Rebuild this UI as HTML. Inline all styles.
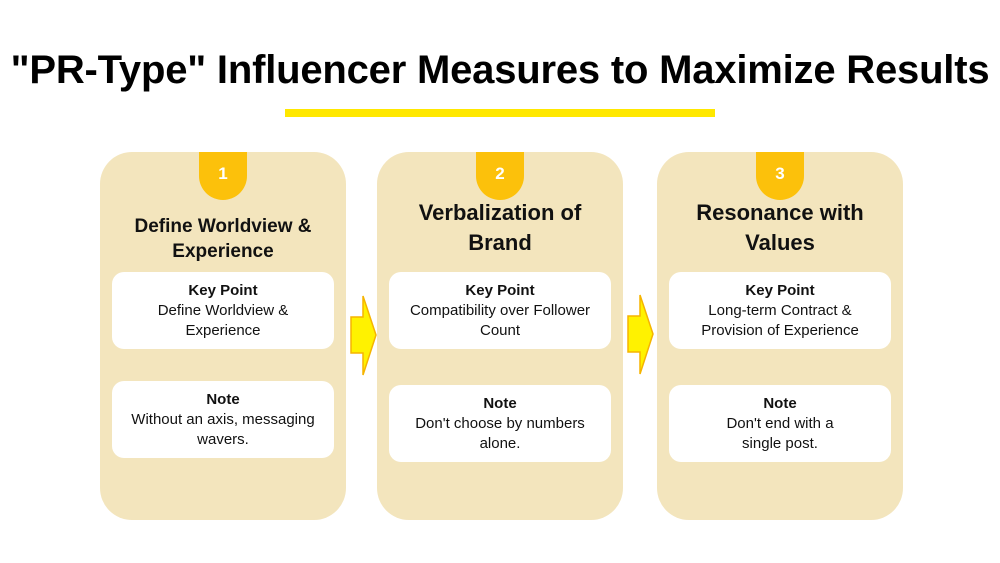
<!DOCTYPE html>
<html><head><style>
body{margin:0;width:1000px;height:563px;background:#fff;position:relative;font-family:"Liberation Sans",sans-serif;overflow:hidden}
.t{position:absolute;left:-20px;width:1040px;top:46px;text-align:center;font-weight:bold;font-size:40px;line-height:48px;color:#000;letter-spacing:-0.2px}
.bar{position:absolute;left:285px;top:109px;width:430px;height:8px;background:#ffe800}
.card{position:absolute;top:152px;width:246px;height:368px;background:#f3e5bd;border-radius:32px}
.badge{position:absolute;top:0;left:99px;width:48px;height:48px;background:#fcc10b;border-radius:0 0 24px 24px;color:#fff;font-weight:bold;font-size:17px;text-align:center;line-height:44px}
.ttl{position:absolute;left:0;width:100%;text-align:center;font-weight:bold;color:#111}
.box{position:absolute;left:12px;width:222px;height:77px;background:#fff;border-radius:12px;text-align:center;font-size:15px;line-height:20px;color:#111;box-sizing:border-box;padding-top:9px}
.box b{display:block}
.arr{position:absolute}
</style></head><body>
<div class="t">"PR-Type" Influencer Measures to Maximize Results</div>
<div class="bar"></div>

<div class="card" style="left:100px">
 <div class="badge">1</div>
 <div class="ttl" style="top:62px;font-size:19px;line-height:25px">Define Worldview &amp;<br>Experience</div>
 <div class="box" style="top:120px"><b>Key Point</b>Define Worldview &amp;<br>Experience</div>
 <div class="box" style="top:229px"><b>Note</b>Without an axis, messaging<br>wavers.</div>
</div>

<div class="card" style="left:377px">
 <div class="badge">2</div>
 <div class="ttl" style="top:46px;font-size:22px;line-height:30px">Verbalization of<br>Brand</div>
 <div class="box" style="top:120px"><b>Key Point</b>Compatibility over Follower<br>Count</div>
 <div class="box" style="top:233px"><b>Note</b>Don't choose by numbers<br>alone.</div>
</div>

<div class="card" style="left:657px">
 <div class="badge">3</div>
 <div class="ttl" style="top:46px;font-size:22px;line-height:30px">Resonance with<br>Values</div>
 <div class="box" style="top:120px"><b>Key Point</b>Long-term Contract &amp;<br>Provision of Experience</div>
 <div class="box" style="top:233px"><b>Note</b>Don't end with a<br>single post.</div>
</div>

<svg class="arr" style="left:348px;top:294px" width="32" height="84"><polygon points="3,23 15,23 15,2 28,41 15,81 15,59 3,59" fill="#fff200" stroke="#f5b400" stroke-width="1.5"/></svg>
<svg class="arr" style="left:625px;top:293px" width="32" height="84"><polygon points="3,23 15,23 15,2 28,41 15,81 15,59 3,59" fill="#fff200" stroke="#f5b400" stroke-width="1.5"/></svg>
</body></html>
